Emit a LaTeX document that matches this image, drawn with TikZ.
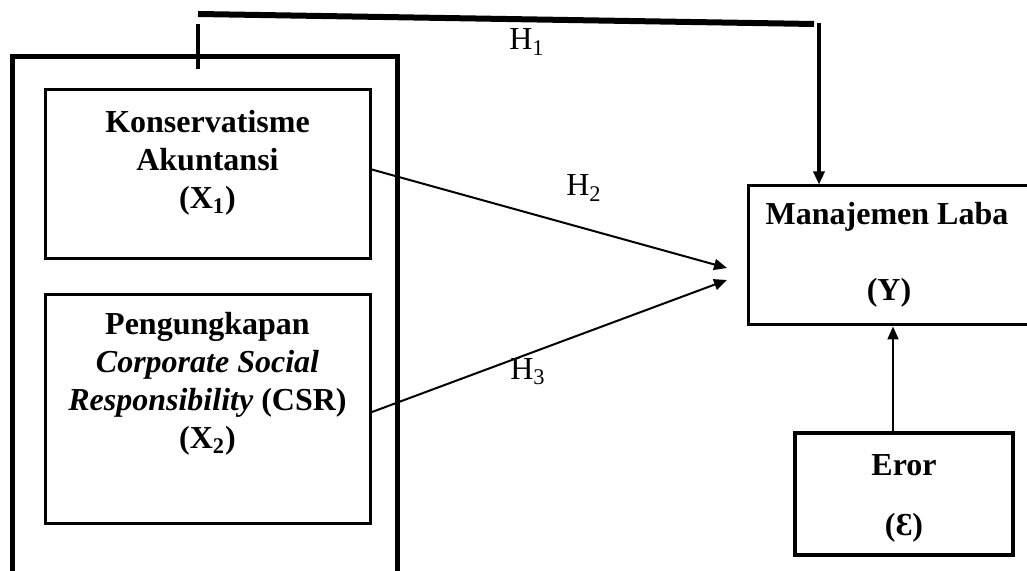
\documentclass[tikz,border=0pt]{standalone}
\usepackage{fontspec}
\setmainfont{Liberation Serif}
\usetikzlibrary{arrows.meta}
\begin{document}
\begin{tikzpicture}[x=0.5pt,y=-0.5pt,
  every node/.style={font=\fontsize{16pt}{19pt}\selectfont},
  varbox/.style={draw, line width=1.5pt, inner sep=0pt},
  btext/.style={font=\fontsize{16pt}{19pt}\selectfont\bfseries, align=center, inner sep=0pt},
  hlabel/.style={inner sep=0pt},
  thinarrow/.style={line width=1pt, -{Triangle[length=6.5pt,width=5.5pt]}},
  boldarrow/.style={line width=2pt, -{Triangle[length=6.5pt,width=5.5pt]}}
]
\useasboundingbox (0,0) rectangle (1027,571);
% outer frame
\draw[line width=2.5pt] (12,580) -- (12,57) -- (397,57) -- (397,580);
% boxes
\node[varbox, minimum width=162.5pt, minimum height=84.5pt] (k) at (207.5,174.5) {};
\node[varbox, minimum width=162.5pt, minimum height=114pt] (p) at (207.5,409) {};
\node[varbox, minimum width=141pt, minimum height=69.5pt] (m) at (889,255.5) {};
\node[varbox, line width=2pt, minimum width=109pt, minimum height=61pt] (e) at (904,494) {};
% texts
\node[btext] (kt) at (207.5,163) {Konservatisme\\Akuntansi\\(X\textsubscript{1})};
\node[btext] (pt) at (207.5,384) {Pengungkapan\\\textit{Corporate Social}\\\textit{Responsibility} (CSR)\\(X\textsubscript{2})};
\node[btext] (mt1) at (887,217) {Manajemen Laba};
\node[btext] (mt2) at (889,293) {(Y)};
\node[btext] (et1) at (904,465) {Eror};
\node[btext] (et2) at (904,528) {(Ɛ)};
% H1 path
\coordinate (tk1) at (198,24);
\coordinate (tk2) at (198,69);
\coordinate (tl1) at (198,14);
\coordinate (tl2) at (814,24);
\coordinate (v1) at (819,23);
\draw[line width=2pt] (tk1) -- (tk2);
\draw[line width=3pt] (tl1) -- (tl2);
\draw[boldarrow] (v1) -- (m.north -| v1);
% H2, H3
\coordinate (s2) at (370,169);
\coordinate (t2) at (727,268);
\coordinate (s3) at (372,412);
\coordinate (t3) at (727,280);
\draw[thinarrow] (s2) -- (t2);
\draw[thinarrow] (s3) -- (t3);
% error arrow
\coordinate (ea) at (893,0);
\draw[thinarrow] (e.north -| ea) -- (m.south -| ea);
% labels
\node[hlabel] (h1) at (527,42) {H\textsubscript{1}};
\node[hlabel] (h2) at (584,188) {H\textsubscript{2}};
\node[hlabel] (h3) at (528,372) {H\textsubscript{3}};
\end{tikzpicture}
\end{document}
